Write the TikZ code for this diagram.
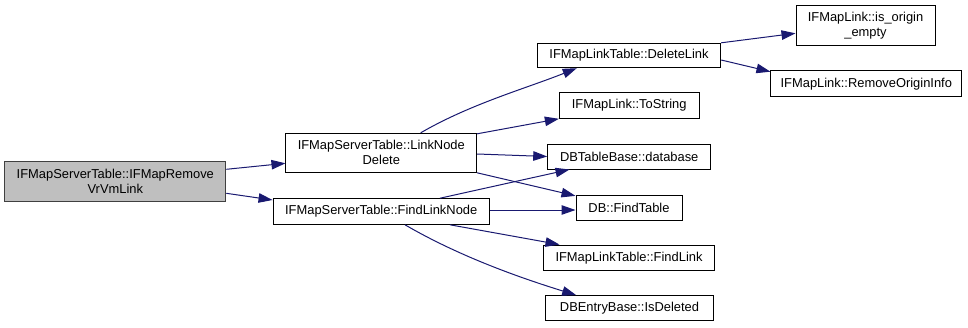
\documentclass[tikz,border=0pt]{standalone}
\usepackage{fontspec}
\setmainfont{Liberation Sans}
\usepackage{xcolor}
\usepackage{tikz}
\usetikzlibrary{arrows.meta}
\definecolor{callblue}{HTML}{191970}
\tikzset{
    fn/.style={draw, fill=white, line width=1pt, inner sep=0pt, align=center,
        minimum height=25pt, font=\fontsize{12.9}{15}\selectfont},
    rootfn/.style={fn, fill=black!25, draw=black!75},
    call/.style={draw=callblue, line width=1pt, -{Triangle[length=14pt,width=9.5pt]}}}

\begin{document}
\begin{tikzpicture}[x=1pt,y=-1pt]
\useasboundingbox (0,0) rectangle (968,327);

% functions
\node[rootfn, minimum width=221pt, minimum height=40pt] (remove) at (115.3,181.7) {IFMapServerTable::IFMapRemove\\VrVmLink};
\node[fn, minimum width=190.7pt, minimum height=39pt] (lnkdel) at (381.3,152.8) {IFMapServerTable::LinkNode\\Delete};
\node[fn, minimum width=216.3pt, minimum height=25.6pt] (findln) at (381.2,211.5) {IFMapServerTable::FindLinkNode};
\node[fn, minimum width=183.4pt, minimum height=24.4pt] (dellink) at (629,55.5) {IFMapLinkTable::DeleteLink};
\node[fn, minimum width=139.7pt, minimum height=25.6pt] (tostr) at (629.2,105.5) {IFMapLink::ToString};
\node[fn, minimum width=163pt] (dbase) at (629.2,156.5) {DBTableBase::database};
\node[fn, minimum width=106pt, minimum height=24.7pt] (ftable) at (629,207.7) {DB::FindTable};
\node[fn, minimum width=170.6pt, minimum height=25.3pt] (flink) at (629,257.7) {IFMapLinkTable::FindLink};
\node[fn, minimum width=167.6pt, minimum height=25.3pt] (isdel) at (629.5,308.3) {DBEntryBase::IsDeleted};
\node[fn, minimum width=139pt, minimum height=40pt] (oempty) at (865.5,25.7) {IFMapLink::is\_origin\\\_empty};
\node[fn, minimum width=190.7pt, minimum height=26pt] (rmorig) at (866.3,83.7) {IFMapLink::RemoveOriginInfo};

% calls
\draw[call] ([yshift=12.4pt]remove.east) -- ([yshift=-10.5pt]lnkdel.west);
\draw[call] ([yshift=-11.6pt]remove.east) -- ([yshift=11.5pt]findln.west);

\draw[call] ([xshift=39.4pt]lnkdel.north) .. controls +(50,-29) and +(-50,20) .. ([xshift=-52.3pt]dellink.south);
\draw[call] ([yshift=-1pt]lnkdel.north east) -- (tostr.south west);
\draw[call] ([yshift=-1.2pt]lnkdel.east) -- (dbase.west);
\draw[call] (lnkdel.south east) -- ([yshift=-1pt]ftable.north west);

\draw[call] ([xshift=58.8pt]findln.north) -- ([xshift=22.3pt]dbase.south west);
\draw[call] ([yshift=1.5pt]findln.east) -- ([yshift=-2.3pt]ftable.west);
\draw[call] ([xshift=68.8pt]findln.south) -- ([xshift=16.3pt]flink.north west);
\draw[call] ([xshift=23.8pt]findln.south) .. controls +(55,32) and +(-55,-17) .. ([xshift=31pt]isdel.north west);

\draw[call] (dellink.north east) -- ([yshift=-7.6pt]oempty.west);
\draw[call] ([yshift=-4.5pt]dellink.east) -- ([yshift=-1.5pt]rmorig.north west);
\end{tikzpicture}
\end{document}
